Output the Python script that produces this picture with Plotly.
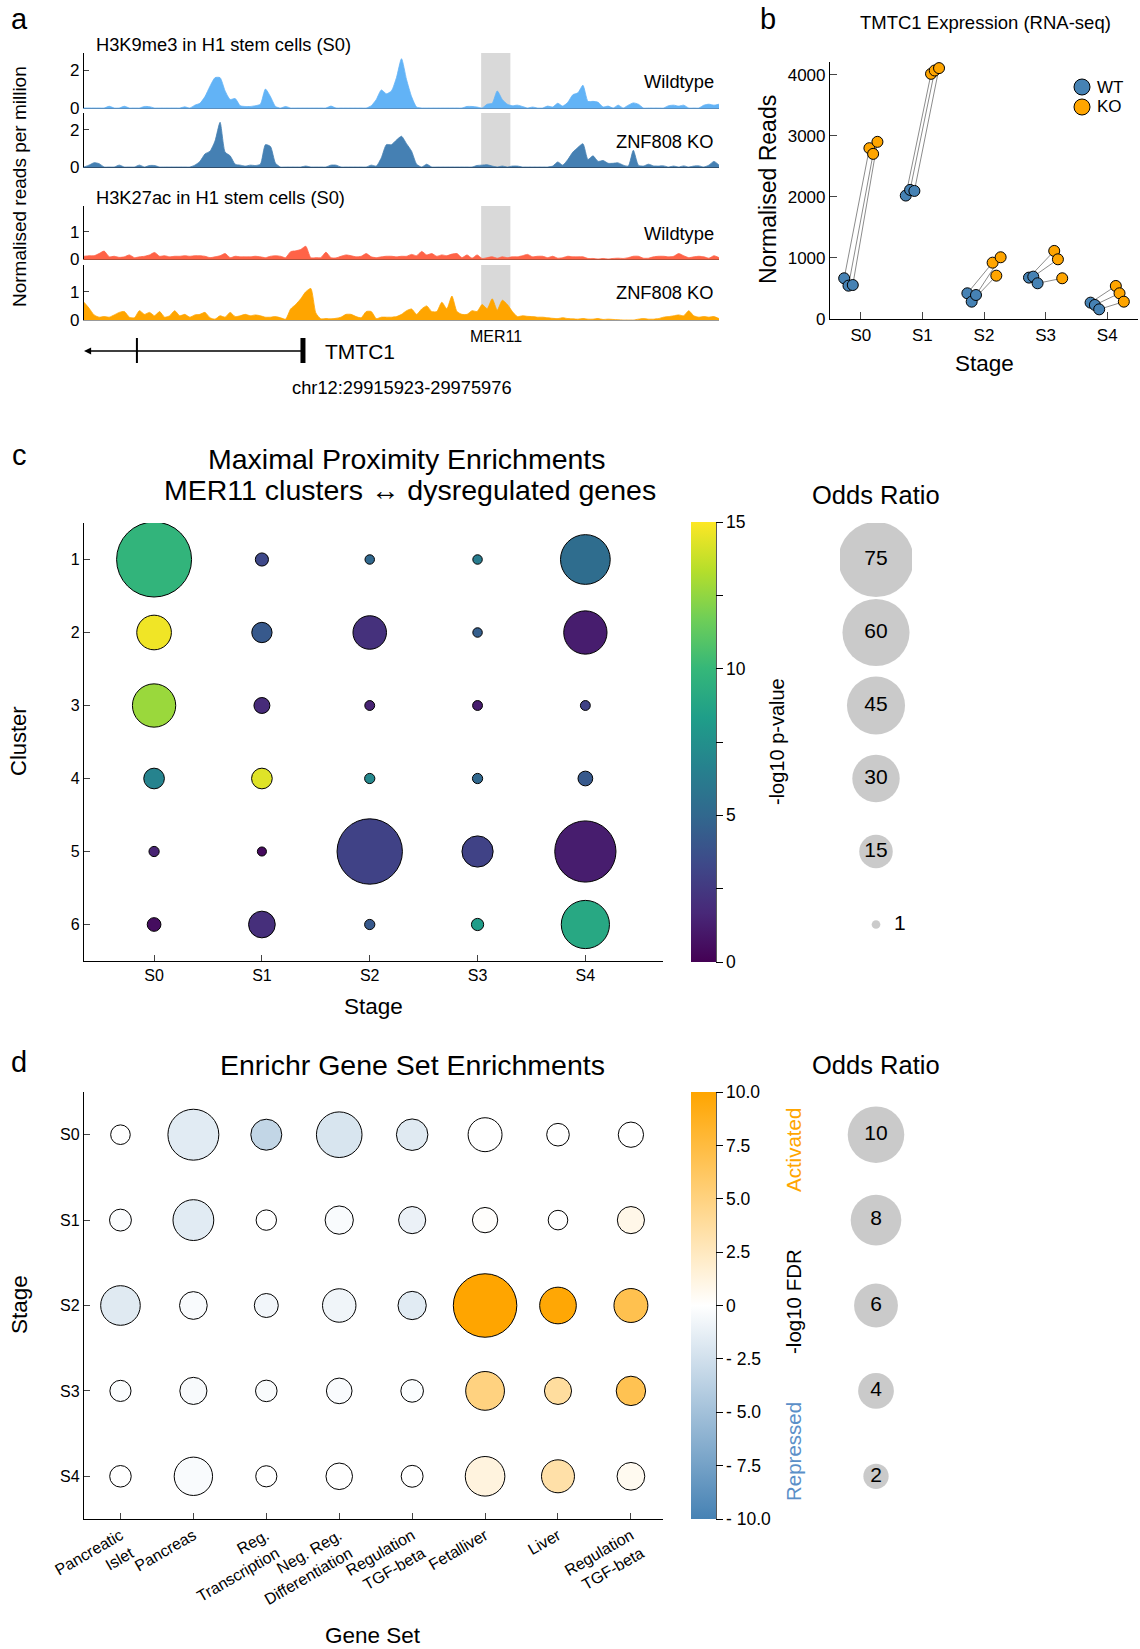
import plotly.graph_objects as go

W, H = 1140, 1649
FONT = "Liberation Sans, Arial, Helvetica, sans-serif"


def fx(p):
    return p / W


def fy(p):
    return 1 - p / H


# ---------------- Panel a: ChIP-seq coverage, 127 bins over chr12:29915923-29975976
k9_wt = [0, 0, 0, 0, 0, 0.09, 0, 0, 0.09, 0,
         0, 0, 0.08, 0.07, 0, 0, 0, 0, 0, 0,
         0.06, 0, 0.15, 0.25, 0.6, 1.15, 1.6, 1.6, 0.9, 0.45,
         0.5, 0.12, 0.08, 0.08, 0.12, 0.2, 1.0, 0.6, 0.08, 0,
         0.08, 0, 0, 0, 0, 0, 0, 0, 0, 0.1,
         0, 0, 0, 0, 0, 0, 0, 0.12, 0.45, 0.95,
         0.75, 0.9, 1.6, 2.6, 1.5, 0.6, 0.05, 0, 0, 0,
         0, 0, 0, 0, 0, 0, 0.08, 0.08, 0.05, 0,
         0.2, 0.25, 0.9, 0.45, 0.2, 0.12, 0.15, 0.08, 0, 0.05,
         0, 0, 0.1, 0.05, 0.25, 0.1, 0.3, 0.7, 0.8, 1.2,
         0.35, 0.35, 0.3, 0.05, 0.1, 0, 0.15, 0, 0.15, 0.27,
         0.2, 0, 0, 0, 0, 0, 0.12, 0.15, 0.1, 0.15,
         0, 0, 0, 0.15, 0.2, 0.15, 0.2]

k9_ko = [0, 0.1, 0.23, 0.18, 0, 0, 0, 0.1, 0, 0,
         0, 0.1, 0, 0.08, 0.08, 0, 0, 0, 0, 0,
         0, 0, 0.1, 0.3, 0.7, 0.85, 1.4, 2.4, 0.8, 0.6,
         0.15, 0.1, 0.05, 0.1, 0.08, 0.15, 1.2, 1.1, 0.2, 0,
         0, 0, 0, 0, 0.05, 0, 0, 0, 0, 0.1,
         0.1, 0, 0, 0, 0, 0, 0, 0.1, 0.05, 0.5,
         1.2, 1.2, 1.45, 1.65, 1.25, 0.85, 0.15, 0, 0.15, 0,
         0, 0, 0, 0, 0, 0, 0, 0, 0.08, 0.1,
         0.12, 0.05, 0, 0.05, 0, 0.05, 0.05, 0, 0, 0,
         0, 0, 0, 0.05, 0.27, 0.1, 0.4, 0.8, 1.05, 1.25,
         0.4, 0.6, 0.3, 0.35, 0.2, 0.2, 0.22, 0.1, 0.05, 0.9,
         0.1, 0.05, 0.15, 0.06, 0.05, 0.06, 0, 0.05, 0, 0.06,
         0, 0.05, 0.06, 0, 0.1, 0.3, 0.1]

k27_wt = [0.1, 0.12, 0.12, 0.2, 0.29, 0.08, 0.1, 0.06, 0.08, 0.15,
          0.05, 0.08, 0.1, 0.15, 0.24, 0.1, 0.12, 0.08, 0.1, 0.1,
          0.12, 0.1, 0.12, 0.12, 0.1, 0.05, 0.08, 0.12, 0.2, 0.05,
          0.1, 0.08, 0.08, 0.08, 0.1, 0.08, 0.05, 0.1, 0.12, 0.1,
          0.05, 0.27, 0.3, 0.35, 0.47, 0.05, 0.05, 0.05, 0.25, 0.05,
          0.04, 0.1, 0.15, 0.12, 0.08, 0.1, 0.2, 0.08, 0.05, 0.08,
          0.1, 0.1, 0.08, 0.1, 0.1, 0.17, 0.12, 0.28, 0.15, 0.2,
          0.1, 0.15, 0.12, 0.18, 0.2, 0.05, 0.15, 0.03, 0.15, 0.02,
          0.05, 0.08, 0.03, 0.08, 0.05, 0.08, 0.08, 0.12, 0.17, 0.08,
          0.1, 0.1, 0.05, 0.1, 0.03, 0.05, 0.1, 0.08, 0.08, 0.08,
          0.02, 0.02, 0, 0.02, 0, 0.02, 0.03, 0.02, 0.05, 0.1,
          0.1, 0.03, 0.03, 0.08, 0.1, 0.1, 0.08, 0.1, 0.2, 0.12,
          0.05, 0.08, 0.1, 0.08, 0.03, 0.12, 0.05]

k27_ko = [0.63, 0.42, 0.18, 0.1, 0.12, 0.1, 0.18, 0.27, 0.3, 0.1,
          0.08, 0.33, 0.2, 0.27, 0.15, 0.3, 0.1, 0.15, 0.33, 0.15,
          0.2, 0.1, 0.18, 0.2, 0.27, 0.08, 0.03, 0.15, 0.1, 0.27,
          0.12, 0.15, 0.2, 0.15, 0.18, 0.15, 0.1, 0.1, 0.12, 0.08,
          0.03, 0.39, 0.55, 0.75, 1.0, 1.12, 0.25, 0.04, 0.05, 0.04,
          0.06, 0.1, 0.2, 0.2, 0.12, 0.08, 0.3, 0.3, 0.05, 0.1,
          0.1, 0.1, 0.12, 0.2, 0.33, 0.39, 0.2, 0.39, 0.5, 0.3,
          0.3, 0.63, 0.4, 0.85, 0.3, 0.2, 0.2, 0.33, 0.3, 0.55,
          0.4, 0.75, 0.35, 0.7, 0.55, 0.3, 0.12, 0.15, 0.13, 0.12,
          0.1, 0.1, 0.08, 0.06, 0.05, 0.08, 0.05, 0.04, 0.03, 0.05,
          0.03, 0.03, 0.05, 0.02, 0.03, 0.02, 0.01, 0, 0, 0,
          0.03, 0.05, 0.03, 0.03, 0.05, 0.1, 0.12, 0.15, 0.18, 0.15,
          0.33, 0.15, 0.1, 0.12, 0.1, 0.12, 0.05]

track_labels = ["Wildtype", "ZNF808 KO", "Wildtype", "ZNF808 KO"]
mer11_bins = [78.8, 84.6]          # MER11 element span (bin units)
gene_end_bin = 43.45               # TMTC1 5' end in view
gene_exon_bin = 10.5

# ---------------- Panel b: TMTC1 RNA-seq, three replicates
stages = ["S0", "S1", "S2", "S3", "S4"]
wt_reads = [[667, 546, 557], [2022, 2115, 2098], [421, 284, 393], [678, 694, 585], [268, 230, 158]]
ko_reads = [[2798, 2705, 2902], [4016, 4071, 4110], [923, 710, 1011], [1115, 978, 667], [541, 421, 284]]

# ---------------- Panel c: MER11 cluster proximity enrichments (rows = clusters 1..6)
clusters = [1, 2, 3, 4, 5, 6]
odds_c = [[75, 2.3, 1.2, 1.2, 33],
          [16, 5.5, 15, 1.2, 25],
          [25, 3.4, 1.3, 1.3, 1.3],
          [5.7, 5.7, 1.4, 1.4, 2.9],
          [1.4, 1.1, 57, 13, 50],
          [2.5, 9.5, 1.4, 2.0, 31]]
logp_c = [[9.8, 3.3, 5.0, 6.3, 5.3],
          [14.7, 4.2, 2.1, 4.5, 1.2],
          [12.7, 1.8, 1.5, 1.2, 3.0],
          [6.7, 14.3, 7.0, 5.0, 4.2],
          [1.5, 0.4, 3.0, 3.0, 1.2],
          [0.5, 2.0, 4.2, 8.3, 9.0]]
or_legend_c = [75, 60, 45, 30, 15, 1]

# ---------------- Panel d: Enrichr gene set enrichments (rows = stages S0..S4)
gene_sets = ["Pancreatic<br>Islet", "Pancreas", "Reg.<br>Transcription", "Neg. Reg.<br>Differentiation",
             "Regulation<br>TGF-beta", "Fetalliver", "Liver", "Regulation<br>TGF-beta"]
odds_d = [[1.2, 8.1, 3.0, 6.5, 3.1, 3.6, 1.6, 2.0],
          [1.5, 5.2, 1.3, 2.5, 2.3, 2.0, 1.2, 2.3],
          [4.9, 2.4, 1.8, 3.5, 2.5, 12.6, 4.2, 3.6],
          [1.4, 2.3, 1.45, 2.05, 1.6, 4.7, 2.3, 2.7],
          [1.45, 4.6, 1.4, 2.2, 1.5, 4.9, 3.4, 2.4]]
fdr_d = [[0, -1.6, -3.3, -2.1, -1.7, 0, 0, 0],
         [-0.2, -1.6, 0, -0.3, -1.1, 0.1, 0, 0.9],
         [-1.7, -0.3, -0.7, -0.8, -1.6, 10, 9.8, 6.9],
         [-0.2, -0.4, -0.35, -0.3, -0.2, 5.0, 3.8, 6.8],
         [0, -0.3, 0, 0, 0, 1.3, 3.4, 0.6]]
or_legend_d = [10, 8, 6, 4, 2]

WT_COL, KO_COL = "#4682b4", "#ffa500"
WT_JIT = [-0.27, -0.2, -0.13]
KO_JIT = [0.14, 0.2, 0.27]

# bubble area scaling (diameter = sqrt(2 * value / sizeref))
SIZEREF_C = 2 / 75.0
SIZEREF_D = 2 / 320.0

fig = go.Figure()
layout = {}
shapes = []
ann = []


def ax(i):
    return "x" if i == 1 else f"x{i}"


def ay(i):
    return "y" if i == 1 else f"y{i}"


def lname(kind, i):
    return f"{kind}axis" if i == 1 else f"{kind}axis{i}"


# ---------- Panel a tracks
track_px = [(53, 108), (113, 167), (206, 259), (265, 320)]
track_rng = [[0, 2.9], [0, 2.9], [0, 1.95], [0, 1.95]]
track_ticks = [[0, 2], [0, 2], [0, 1], [0, 1]]
track_cols = ["#62b3f6", "#4580b3", "#ff6347", "#ffa500"]
base_cols = ["#5a8fc0", "#2f4f6f", "#b0503a", "#999999"]
bins = list(range(len(k9_wt)))
for i, sig in enumerate([k9_wt, k9_ko, k27_wt, k27_ko], start=1):
    fig.add_trace(go.Scatter(x=bins, y=sig, mode="lines",
                             line=dict(color=track_cols[i - 1], width=0.8, shape="spline", smoothing=0.6),
                             fill="tozeroy", fillcolor=track_cols[i - 1],
                             xaxis=ax(i), yaxis=ay(i), hoverinfo="skip", showlegend=False))
    top, bot = track_px[i - 1]
    layout[lname("x", i)] = dict(domain=[fx(84), fx(719)], range=[0, 126], anchor=ay(i),
                                 showline=True, linecolor=base_cols[i - 1], linewidth=1.2,
                                 showticklabels=False, ticks="", showgrid=False, zeroline=False,
                                 automargin=False)
    layout[lname("y", i)] = dict(domain=[fy(bot), fy(top)], range=track_rng[i - 1], anchor=ax(i),
                                 tickvals=track_ticks[i - 1], ticks="inside", ticklen=5, tickwidth=1.2,
                                 showline=True, linecolor="black", linewidth=1.2, showgrid=False,
                                 zeroline=False, tickfont=dict(size=17), automargin=False)
    shapes.append(dict(type="rect", xref=ax(i), yref=ay(i), x0=mer11_bins[0], x1=mer11_bins[1],
                       y0=0, y1=track_rng[i - 1][1], fillcolor="#d9d9d9", line=dict(width=0),
                       layer="below"))

label_y = [81, 141, 234, 292]
for txt, yy in zip(track_labels, label_y):
    ann.append(dict(text=txt, x=fx(716), y=fy(yy), xanchor="right", yanchor="middle",
                    font=dict(size=18.3)))
ann.append(dict(text="H3K9me3 in H1 stem cells (S0)", x=fx(94), y=fy(44), xanchor="left",
                yanchor="middle", font=dict(size=18.3)))
ann.append(dict(text="H3K27ac in H1 stem cells (S0)", x=fx(94), y=fy(197), xanchor="left",
                yanchor="middle", font=dict(size=18.3)))
ann.append(dict(text="Normalised reads per million", x=fx(19), y=fy(187), textangle=-90,
                xanchor="center", yanchor="middle", font=dict(size=19)))
ann.append(dict(text="MER11", x=(mer11_bins[0] + mer11_bins[1]) / 2, xref="x4", y=fy(337),
                xanchor="center", yanchor="middle", font=dict(size=16)))

# gene model: TMTC1 (minus strand)
ann.append(dict(text="", x=0, xref="x4", y=fy(351), yref="paper", ax=gene_end_bin, axref="x4",
                ay=0, ayref="pixel", showarrow=True, arrowhead=2, arrowsize=1.1, arrowwidth=1.3,
                arrowcolor="black", standoff=0, startstandoff=0))
shapes.append(dict(type="line", xref="x4", yref="paper", x0=gene_exon_bin, x1=gene_exon_bin,
                   y0=fy(363), y1=fy(338), line=dict(color="black", width=2)))
shapes.append(dict(type="line", xref="x4", yref="paper", x0=gene_end_bin, x1=gene_end_bin,
                   y0=fy(363), y1=fy(338), line=dict(color="black", width=5)))
ann.append(dict(text="TMTC1", x=fx(323), y=fy(351), xanchor="left", yanchor="middle",
                font=dict(size=21)))
ann.append(dict(text="chr12:29915923-29975976", x=fx(402), y=fy(387), xanchor="center",
                yanchor="middle", font=dict(size=18.3)))

# ---------- Panel b
lx, ly = [], []
for s in range(len(stages)):
    for r in range(3):
        lx += [s + WT_JIT[r], s + KO_JIT[r], None]
        ly += [wt_reads[s][r], ko_reads[s][r], None]
fig.add_trace(go.Scatter(x=lx, y=ly, mode="lines", line=dict(color="#8c8c8c", width=1),
                         xaxis="x5", yaxis="y5", hoverinfo="skip", showlegend=False))
for reads, jit, col in [(wt_reads, WT_JIT, WT_COL), (ko_reads, KO_JIT, KO_COL)]:
    xs, ys = [], []
    for s in range(len(stages)):
        for r in range(3):
            xs.append(s + jit[r])
            ys.append(reads[s][r])
    fig.add_trace(go.Scatter(x=xs, y=ys, mode="markers",
                             marker=dict(size=11, color=col, line=dict(color="black", width=1)),
                             xaxis="x5", yaxis="y5", showlegend=False))
layout["xaxis5"] = dict(domain=[fx(830), fx(1138)], range=[-0.5, 4.5], anchor="y5",
                        tickvals=list(range(5)), ticktext=stages, ticks="inside", ticklen=7,
                        tickwidth=1.2, showline=True, linecolor="black", linewidth=1.2,
                        showgrid=False, zeroline=False, tickfont=dict(size=17), automargin=False)
layout["yaxis5"] = dict(domain=[fy(319), fy(62)], range=[0, 4210], anchor="x5",
                        tickvals=[0, 1000, 2000, 3000, 4000], ticks="inside", ticklen=7,
                        tickwidth=1.2, showline=True, linecolor="black", linewidth=1.2,
                        showgrid=False, zeroline=False, tickfont=dict(size=17), automargin=False)
for name, col, yy in [("WT", WT_COL, 87), ("KO", KO_COL, 107)]:
    shapes.append(dict(type="circle", xref="paper", yref="paper", xsizemode="pixel",
                       ysizemode="pixel", xanchor=fx(1082), yanchor=fy(yy), x0=-8, x1=8,
                       y0=-8, y1=8, fillcolor=col, line=dict(color="black", width=1)))
    ann.append(dict(text=name, x=fx(1095), y=fy(yy), xanchor="left", yanchor="middle",
                    font=dict(size=17)))
ann.append(dict(text="TMTC1 Expression (RNA-seq)", x=fx(985), y=fy(23), xanchor="center",
                yanchor="middle", font=dict(size=18.5)))
ann.append(dict(text="Normalised Reads", x=fx(768), y=fy(190), textangle=-90, xanchor="center",
                yanchor="middle", font=dict(size=23)))
ann.append(dict(text="Stage", x=fx(984), y=fy(363), xanchor="center", yanchor="middle",
                font=dict(size=22.5)))

# ---------- Panel c
cx, cy, cs, cc = [], [], [], []
for r, cl in enumerate(clusters):
    for s in range(len(stages)):
        cx.append(s)
        cy.append(cl)
        cs.append(odds_c[r][s])
        cc.append(logp_c[r][s])
fig.add_trace(go.Scatter(x=cx, y=cy, mode="markers", xaxis="x6", yaxis="y6", showlegend=False,
                         marker=dict(size=cs, sizemode="area", sizeref=SIZEREF_C, color=cc,
                                     coloraxis="coloraxis", line=dict(color="black", width=1),
                                     opacity=1)))
layout["xaxis6"] = dict(domain=[fx(84), fx(663)], range=[-0.65, 4.72], anchor="y6",
                        tickvals=list(range(5)), ticktext=stages, ticks="inside", ticklen=6,
                        tickwidth=1.2, showline=True, linecolor="black", linewidth=1.2,
                        showgrid=False, zeroline=False, tickfont=dict(size=16), automargin=False)
layout["yaxis6"] = dict(domain=[fy(961), fy(523)], range=[6.5, 0.5], anchor="x6",
                        tickvals=clusters, ticks="inside", ticklen=6, tickwidth=1.2,
                        showline=True, linecolor="black", linewidth=1.2, showgrid=False,
                        zeroline=False, tickfont=dict(size=16), automargin=False)
layout["coloraxis"] = dict(colorscale="Viridis", cmin=0, cmax=15,
                           colorbar=dict(x=fx(691), xanchor="left", y=fy(742), yanchor="middle",
                                         len=440 / H, lenmode="fraction", thickness=25,
                                         thicknessmode="pixels", xpad=0, ypad=0, outlinewidth=0,
                                         ticks="outside", ticklen=7, tickwidth=1.2,
                                         tickcolor="black",
                                         tickvals=[0, 2.5, 5, 7.5, 10, 12.5, 15],
                                         ticktext=["0", "", "5", "", "10", "", "15"],
                                         tickfont=dict(size=17.5)))
shapes.append(dict(type="line", xref="paper", yref="paper", x0=fx(716), x1=fx(716),
                   y0=fy(962), y1=fy(522), line=dict(color="black", width=1.3)))

fig.add_trace(go.Scatter(x=[0] * len(or_legend_c), y=clusters, mode="markers+text",
                         xaxis="x7", yaxis="y7", showlegend=False,
                         text=[str(v) if v > 1 else "  " + str(v) for v in or_legend_c],
                         textposition=["middle center"] * 5 + ["middle right"],
                         textfont=dict(size=21, color="black"),
                         marker=dict(size=or_legend_c, sizemode="area", sizeref=SIZEREF_C,
                                     color="#b3b3b3", line=dict(width=0))))
layout["xaxis7"] = dict(domain=[fx(840), fx(912)], range=[-1, 1], anchor="y7", visible=False)
layout["yaxis7"] = dict(domain=[fy(961), fy(523)], range=[6.5, 0.5], anchor="x7", visible=False)

ann.append(dict(text="Maximal Proximity Enrichments", x=fx(407), y=fy(459), xanchor="center",
                yanchor="middle", font=dict(size=28.5)))
ann.append(dict(text="MER11 clusters \u2194 dysregulated genes", x=fx(410), y=fy(490),
                xanchor="center", yanchor="middle", font=dict(size=28.5)))
ann.append(dict(text="Stage", x=fx(373), y=fy(1006), xanchor="center", yanchor="middle",
                font=dict(size=22.5)))
ann.append(dict(text="Cluster", x=fx(19), y=fy(741), textangle=-90, xanchor="center",
                yanchor="middle", font=dict(size=22)))
ann.append(dict(text="-log10 p-value", x=fx(777), y=fy(742), textangle=-90, xanchor="center",
                yanchor="middle", font=dict(size=20)))
ann.append(dict(text="Odds Ratio", x=fx(876), y=fy(495), xanchor="center", yanchor="middle",
                font=dict(size=25.5)))

# ---------- Panel d
dx, dy, ds, dc = [], [], [], []
for r in range(len(stages)):
    for g in range(len(gene_sets)):
        dx.append(g)
        dy.append(r)
        ds.append(odds_d[r][g])
        dc.append(fdr_d[r][g])
fig.add_trace(go.Scatter(x=dx, y=dy, mode="markers", xaxis="x8", yaxis="y8", showlegend=False,
                         marker=dict(size=ds, sizemode="area", sizeref=SIZEREF_D, color=dc,
                                     coloraxis="coloraxis2", line=dict(color="black", width=1),
                                     opacity=1)))
layout["xaxis8"] = dict(domain=[fx(84), fx(663)], range=[-0.5, 7.44], anchor="y8",
                        tickvals=list(range(len(gene_sets))), ticktext=gene_sets, tickangle=-30,
                        ticks="inside", ticklen=6, tickwidth=1.2, showline=True,
                        linecolor="black", linewidth=1.2, showgrid=False, zeroline=False,
                        tickfont=dict(size=16), automargin=False)
layout["yaxis8"] = dict(domain=[fy(1519), fy(1092)], range=[4.5, -0.5], anchor="x8",
                        tickvals=list(range(len(stages))), ticktext=stages, ticks="inside",
                        ticklen=6, tickwidth=1.2, showline=True, linecolor="black",
                        linewidth=1.2, showgrid=False, zeroline=False, tickfont=dict(size=16),
                        automargin=False)
layout["coloraxis2"] = dict(colorscale=[[0, "#4682b4"], [0.5, "#ffffff"], [1, "#ffa500"]],
                            cmin=-10, cmax=10,
                            colorbar=dict(x=fx(691), xanchor="left", y=fy(1305.5),
                                          yanchor="middle", len=427 / H, lenmode="fraction",
                                          thickness=25, thicknessmode="pixels", xpad=0, ypad=0,
                                          outlinewidth=0, ticks="outside", ticklen=7,
                                          tickwidth=1.2, tickcolor="black",
                                          tickvals=[-10, -7.5, -5, -2.5, 0, 2.5, 5, 7.5, 10],
                                          ticktext=["- 10.0", "- 7.5", "- 5.0", "- 2.5", "0",
                                                    "2.5", "5.0", "7.5", "10.0"],
                                          tickfont=dict(size=17.5)))
shapes.append(dict(type="line", xref="paper", yref="paper", x0=fx(716), x1=fx(716),
                   y0=fy(1519), y1=fy(1092), line=dict(color="black", width=1.3)))

fig.add_trace(go.Scatter(x=[0] * len(or_legend_d), y=list(range(len(or_legend_d))),
                         mode="markers+text", xaxis="x9", yaxis="y9", showlegend=False,
                         text=[str(v) for v in or_legend_d], textposition="middle center",
                         textfont=dict(size=21, color="black"),
                         marker=dict(size=or_legend_d, sizemode="area", sizeref=SIZEREF_D,
                                     color="#b3b3b3", line=dict(width=0))))
layout["xaxis9"] = dict(domain=[fx(840), fx(912)], range=[-1, 1], anchor="y9", visible=False)
layout["yaxis9"] = dict(domain=[fy(1519), fy(1092)], range=[4.5, -0.5], anchor="x9",
                        visible=False)

ann.append(dict(text="Enrichr Gene Set Enrichments", x=fx(412), y=fy(1065), xanchor="center",
                yanchor="middle", font=dict(size=28.5)))
ann.append(dict(text="Gene Set", x=fx(373), y=fy(1635), xanchor="center", yanchor="middle",
                font=dict(size=22.5)))
ann.append(dict(text="Stage", x=fx(19), y=fy(1305), textangle=-90, xanchor="center",
                yanchor="middle", font=dict(size=22.5)))
ann.append(dict(text="-log10 FDR", x=fx(793), y=fy(1302), textangle=-90, xanchor="center",
                yanchor="middle", font=dict(size=20.5)))
ann.append(dict(text="Activated", x=fx(793), y=fy(1150), textangle=-90, xanchor="center",
                yanchor="middle", font=dict(size=20.5, color="#ffa500")))
ann.append(dict(text="Repressed", x=fx(793), y=fy(1452), textangle=-90, xanchor="center",
                yanchor="middle", font=dict(size=20.5, color="#5b8fc8")))
ann.append(dict(text="Odds Ratio", x=fx(876), y=fy(1065), xanchor="center", yanchor="middle",
                font=dict(size=25.5)))

# panel letters
for letter, (xx, yy) in {"a": (19, 19), "b": (768, 19), "c": (19, 455), "d": (19, 1062)}.items():
    ann.append(dict(text=letter, x=fx(xx), y=fy(yy), xanchor="center", yanchor="middle",
                    font=dict(size=29)))

for a in ann:
    a.setdefault("xref", "paper")
    a.setdefault("yref", "paper")
    a.setdefault("showarrow", False)

fig.update_layout(width=W, height=H, margin=dict(l=0, r=0, t=0, b=0, autoexpand=False),
                  paper_bgcolor="white", plot_bgcolor="white",
                  font=dict(family=FONT, color="black", size=15),
                  showlegend=False, shapes=shapes, annotations=ann, **layout)

fig.write_html("out.html")
